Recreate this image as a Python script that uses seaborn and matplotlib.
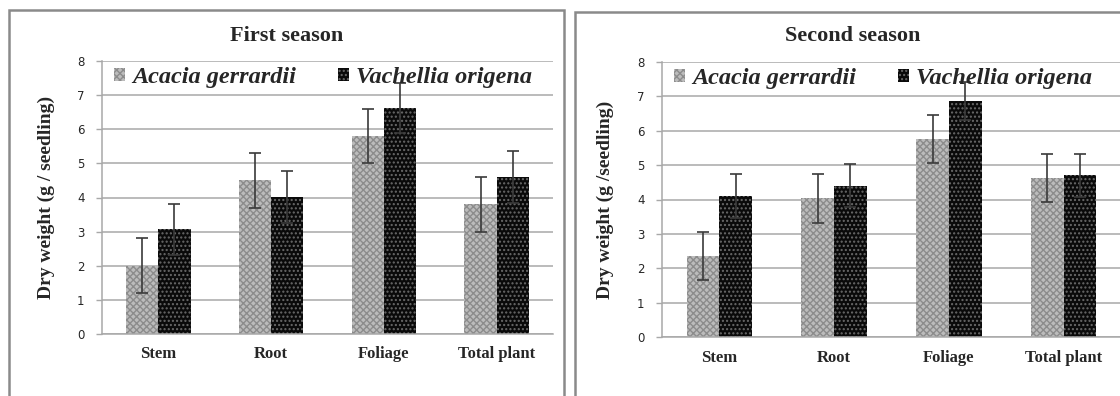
import matplotlib
matplotlib.use("Agg")
import matplotlib.pyplot as plt
import seaborn as sns
import pandas as pd
from matplotlib.patches import Rectangle, Patch

parts = ["Stem", "Root", "Foliage", "Total plant"]
species = ["Acacia gerrardii", "Vachellia origena"]

s1_acacia = [2.0, 4.5, 5.8, 3.8]
s1_acacia_err = [0.8, 0.8, 0.8, 0.8]
s1_vach = [3.07, 4.02, 6.62, 4.6]
s1_vach_err = [0.75, 0.77, 0.73, 0.75]

s2_acacia = [2.35, 4.03, 5.75, 4.62]
s2_acacia_err = [0.7, 0.72, 0.7, 0.7]
s2_vach = [4.11, 4.4, 6.87, 4.7]
s2_vach_err = [0.64, 0.63, 0.55, 0.63]

titles = ["First season", "Second season"]
ylabels = ["Dry weight (g / seedling)", "Dry weight (g /seedling)"]
yticks = [0, 1, 2, 3, 4, 5, 6, 7, 8]

sns.set_style("white")
plt.rcParams["font.family"] = ["Liberation Serif", "DejaVu Serif"]
plt.rcParams["hatch.linewidth"] = 1.0

fig = plt.figure(figsize=(11.2, 3.96), dpi=100)

# panel frames
frames = [(9, 564, 10), (575, 1130, 12)]
for x0, x1, ytop in frames:
    fig.patches.append(Rectangle((x0 / 1120, -0.1), (x1 - x0) / 1120, 1.1 - ytop / 396,
                                 transform=fig.transFigure, fill=False,
                                 edgecolor="#8a8a8a", linewidth=1.8, zorder=0))

axes_pos = [[102 / 1120, 62 / 396, 451 / 1120, 273 / 396],
            [662 / 1120, 59 / 396, 459 / 1120, 275 / 396]]

data = [(s1_acacia, s1_acacia_err, s1_vach, s1_vach_err),
        (s2_acacia, s2_acacia_err, s2_vach, s2_vach_err)]

styles = [dict(face="#bcbcbc", edge="#8c8c8c", hatch="xxxxx"),
          dict(face="#0a0a0a", edge="#6a6a6a", hatch="....")]

for i in range(2):
    a, ae, v, ve = data[i]
    df = pd.DataFrame({
        "part": parts * 2,
        "value": a + v,
        "species": [species[0]] * 4 + [species[1]] * 4,
    })
    ax = fig.add_axes(axes_pos[i])
    sns.barplot(data=df, x="part", y="value", hue="species", order=parts,
                hue_order=species, palette=["#bcbcbc", "#0a0a0a"],
                width=0.57, errorbar=None, ax=ax, legend=False, saturation=1)
    bar_conts = list(ax.containers)
    for k, cont in enumerate(bar_conts):
        st = styles[k]
        errs = [ae, ve][k]
        vals = [a, v][k]
        xs = []
        for p in cont.patches:
            p.set_facecolor(st["face"])
            p.set_edgecolor(st["edge"])
            p.set_hatch(st["hatch"])
            p.set_linewidth(0)
            p.set_zorder(2)
            xs.append(p.get_x() + p.get_width() / 2)
        ax.errorbar(xs, vals, yerr=errs, fmt="none", ecolor="#3a3a3a",
                    elinewidth=1.2, capsize=4.5, capthick=1.2, zorder=3)
    ax.set_ylim(0, 8)
    ax.set_xlim(-0.5, 3.5)
    ax.set_yticks(yticks)
    ax.set_yticklabels([str(t) for t in yticks], family="DejaVu Sans", fontsize=8.5)
    ax.yaxis.grid(True, color="#a8a8a8", linewidth=1.1, zorder=0)
    ax.set_axisbelow(True)
    for sname in ["top", "right"]:
        ax.spines[sname].set_visible(False)
    ax.spines["left"].set_color("#a8a8a8")
    ax.spines["bottom"].set_color("#a8a8a8")
    ax.spines["left"].set_linewidth(1.1)
    ax.spines["bottom"].set_linewidth(1.1)
    ax.tick_params(axis="y", which="major", left=True, length=4.5, width=1.0,
                   color="#a8a8a8", pad=8)
    ax.tick_params(axis="x", length=0, pad=9)
    for lab in ax.get_xticklabels():
        lab.set_fontweight("bold")
        lab.set_fontsize(12)
    ax.set_xlabel("")
    ax.set_ylabel(ylabels[i], fontsize=14, fontweight="bold")
    ax.yaxis.set_label_coords(-0.104, 0.5)
    # title centred over the panel frame
    x0, x1, ytop = frames[i]
    fig.text((x0 + x1) / 2 / 1120, 1 - 36 / 396, titles[i], ha="center", va="center",
             fontsize=16, fontweight="bold")
    handles = [Patch(facecolor=styles[k]["face"], edgecolor=styles[k]["edge"],
                     hatch=styles[k]["hatch"], linewidth=0) for k in range(2)]
    ax.legend(handles, species, loc="upper left", ncol=2, frameon=False,
              prop=dict(family="Liberation Serif", style="italic", weight="bold", size=17.5),
              handlelength=0.45, handleheight=0.45, handletextpad=0.3,
              columnspacing=1.7, bbox_to_anchor=(-0.005, 1.03), borderaxespad=0.2)

fig.savefig("out.png", dpi=100)
